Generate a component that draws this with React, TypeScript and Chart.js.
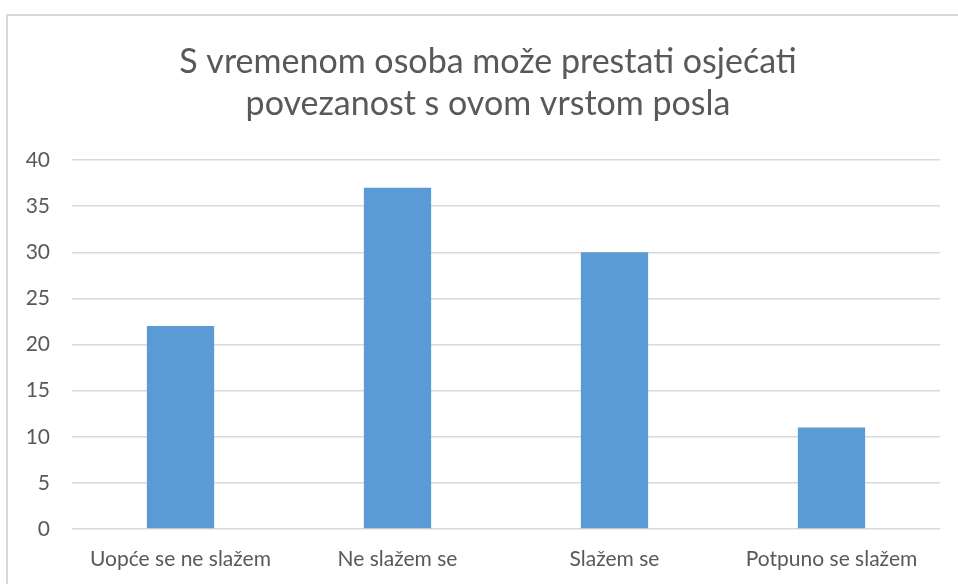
import React, { useEffect, useRef } from "react";
import { Chart, registerables } from "chart.js";

Chart.register(...registerables);

const categories = ["Uopće se ne slažem", "Ne slažem se", "Slažem se", "Potpuno se slažem"];
const values = [22, 37, 30, 11];
const titleLines = ["S vremenom osoba može prestati osjećati", "povezanost s ovom vrstom posla"];

const FONT = "Lato, 'Open Sans', sans-serif";
const TEXT_COLOR = "#595959";

const titlePlugin = {
  id: "customTitle",
  afterDraw(chart: any) {
    const ctx = chart.ctx;
    ctx.save();
    ctx.fillStyle = TEXT_COLOR;
    ctx.font = `34px ${FONT}`;
    ctx.textAlign = "center";
    ctx.textBaseline = "middle";
    titleLines.forEach((line, i) => {
      ctx.fillText(line, 488, 62 + i * 42);
    });
    ctx.restore();
  },
};

export default function App() {
  const ref = useRef<HTMLCanvasElement>(null);
  useEffect(() => {
    if (!ref.current) return;
    const chart = new Chart(ref.current, {
      type: "bar",
      data: {
        labels: categories,
        datasets: [
          {
            data: values,
            backgroundColor: "#5B9BD5",
            categoryPercentage: 1,
            barPercentage: 0.31,
          },
        ],
      },
      options: {
        animation: false,
        responsive: false,
        maintainAspectRatio: false,
        layout: { padding: { top: 160, right: 18, bottom: 11, left: 0 } },
        plugins: {
          legend: { display: false },
          title: { display: false },
          tooltip: { enabled: false },
        },
        scales: {
          x: {
            grid: { display: false, drawTicks: false },
            border: { display: false },
            ticks: {
              color: TEXT_COLOR,
              font: { family: FONT, size: 21 },
              padding: 18,
              maxRotation: 0,
              autoSkip: false,
            },
            afterFit(scale: any) {
              scale.height = 44;
            },
          },
          y: {
            min: 0,
            max: 40,
            grid: { color: "#d9d9d9", lineWidth: 1.5, drawTicks: false },
            border: { display: false },
            ticks: {
              stepSize: 5,
              color: TEXT_COLOR,
              font: { family: FONT, size: 21 },
              padding: 22,
            },
            afterFit(scale: any) {
              scale.width = 72;
            },
          },
        },
      },
      plugins: [titlePlugin],
    });
    return () => chart.destroy();
  }, []);

  return (
    <div style={{ position: "fixed", left: 0, top: 0, width: 958, height: 584, overflow: "hidden", background: "#fff" }}>
      <div
        style={{
          position: "absolute",
          left: 6,
          top: 14,
          width: 1000,
          height: 700,
          border: "2px solid #d9d9d9",
          boxSizing: "border-box",
        }}
      />
      <canvas ref={ref} width={958} height={584} style={{ position: "absolute", left: 0, top: 0 }} />
    </div>
  );
}
